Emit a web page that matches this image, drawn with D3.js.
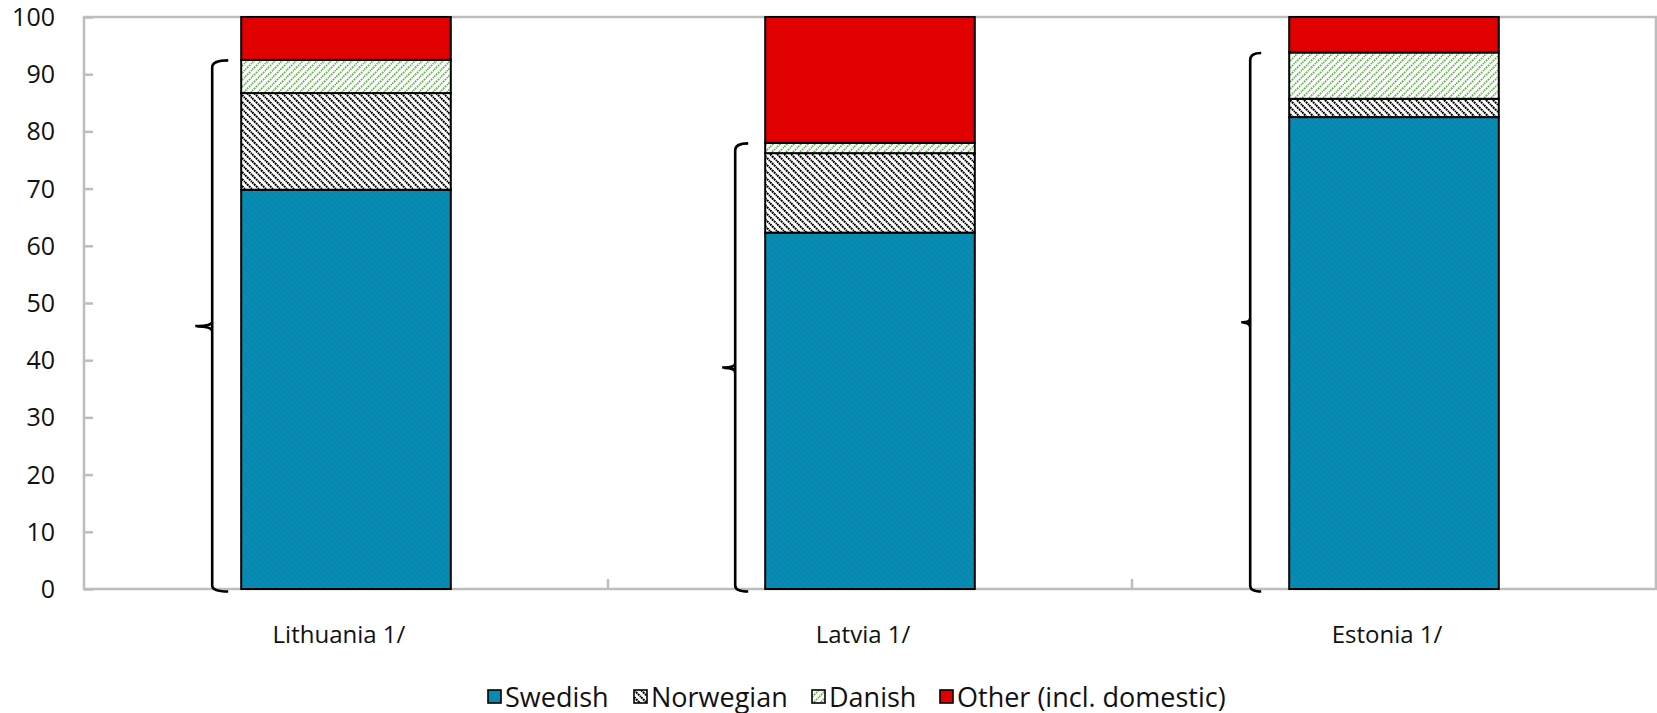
<!DOCTYPE html>
<html>
<head>
<meta charset="utf-8">
<script src="https://cdn.jsdelivr.net/npm/d3@7"></script>
<style>
  html, body { margin: 0; padding: 0; background: #fff; }
  svg { display: block; font-family: "Open Sans", "Noto Sans", sans-serif; }
</style>
</head>
<body>
<svg id="chart" width="1657" height="713"></svg>
<script>
// Market shares of bank groups by country (per cent)
const categories = ["Lithuania 1/", "Latvia 1/", "Estonia 1/"];
const seriesNames = ["Swedish", "Norwegian", "Danish", "Other (incl. domestic)"];
const swedish   = [69.8, 62.3, 82.5];
const norwegian = [16.9, 13.9, 3.2];
const danish    = [5.8, 1.8, 8.1];
const other     = [7.5, 22.0, 6.2];
const yTicks = [0, 10, 20, 30, 40, 50, 60, 70, 80, 90, 100];

const rows = categories.map((c, i) => ({
  category: c,
  Swedish: swedish[i],
  Norwegian: norwegian[i],
  Danish: danish[i],
  "Other (incl. domestic)": other[i]
}));

// curly brackets grouping the Nordic-owned share, drawn left of each bar
const braceStyle = [
  { gap: 29, hook: 16, nub: 17 },
  { gap: 30, hook: 13, nub: 13 },
  { gap: 39, hook: 11, nub: 9 }
];

const svg = d3.select("#chart");
const plotLeft = 84, plotRight = 1656, plotTop = 17, plotBottom = 589;

const x = d3.scaleBand().domain(categories).range([plotLeft, plotRight]).paddingInner(0.6).paddingOuter(0.3);
const xBand = d3.scaleBand().domain(categories).range([plotLeft, plotRight]);
const y = d3.scaleLinear().domain([0, 100]).range([plotBottom, plotTop]);

// fill patterns
const defs = svg.append("defs");

const pSw = defs.append("pattern").attr("id", "pSwedish")
  .attr("patternUnits", "userSpaceOnUse").attr("width", 6).attr("height", 6);
pSw.append("rect").attr("width", 6).attr("height", 6).attr("fill", "#078cb3");
pSw.append("path").attr("d", "M0,0 L6,6 M-3,3 L3,9 M3,-3 L9,3")
  .attr("stroke", "#0884aa").attr("stroke-width", 1.2);

const pNo = defs.append("pattern").attr("id", "pNorwegian")
  .attr("patternUnits", "userSpaceOnUse").attr("width", 7).attr("height", 7);
pNo.append("rect").attr("width", 7).attr("height", 7).attr("fill", "#fff");
pNo.append("path").attr("d", "M0,0 L7,7 M-3.5,3.5 L3.5,10.5 M3.5,-3.5 L10.5,3.5")
  .attr("stroke", "#000").attr("stroke-width", 2.1).attr("stroke-dasharray", "2 0.8");

const pDa = defs.append("pattern").attr("id", "pDanish")
  .attr("patternUnits", "userSpaceOnUse").attr("width", 7).attr("height", 7);
pDa.append("rect").attr("width", 7).attr("height", 7).attr("fill", "#fff");
pDa.append("path").attr("d", "M0,7 L7,0 M-3.5,3.5 L3.5,-3.5 M3.5,10.5 L10.5,3.5")
  .attr("stroke", "#66b552").attr("stroke-width", 1.8).attr("stroke-dasharray", "1.8 1");

const fills = {
  "Swedish": "url(#pSwedish)",
  "Norwegian": "url(#pNorwegian)",
  "Danish": "url(#pDanish)",
  "Other (incl. domestic)": "#e00000"
};

// axes and frame
const axisColor = "#bdbdbd";
const yAxis = svg.append("g").attr("transform", `translate(${plotLeft},0)`)
  .call(d3.axisRight(y).tickValues(yTicks).tickSize(9).tickFormat(""));
yAxis.selectAll("line").attr("stroke", axisColor).attr("stroke-width", 2.5);
yAxis.select(".domain").remove();

svg.append("g").selectAll("text").data(yTicks).join("text")
  .attr("x", 55).attr("y", d => y(d)).attr("dy", "0.36em")
  .attr("text-anchor", "end").attr("font-size", 25).attr("fill", "#111")
  .text(d => d);

// category dividers on the x axis
svg.append("g").selectAll("line").data(categories.slice(1)).join("line")
  .attr("x1", d => xBand(d)).attr("x2", d => xBand(d))
  .attr("y1", plotBottom).attr("y2", plotBottom - 10)
  .attr("stroke", axisColor).attr("stroke-width", 2.5);

svg.append("path")
  .attr("d", `M${plotLeft},${plotTop} L${plotRight},${plotTop} L${plotRight},${plotBottom} L${plotLeft},${plotBottom} Z`)
  .attr("fill", "none").attr("stroke", axisColor).attr("stroke-width", 2.5);

// stacked bars
const stack = d3.stack().keys(seriesNames);
const layers = stack(rows);

svg.append("g").selectAll("g").data(layers).join("g")
  .attr("fill", d => fills[d.key])
  .selectAll("rect").data(d => d).join("rect")
  .attr("x", d => x(d.data.category))
  .attr("width", x.bandwidth())
  .attr("y", d => y(d[1]))
  .attr("height", d => y(d[0]) - y(d[1]))
  .attr("stroke", "#000").attr("stroke-width", 2);

// brackets spanning the Nordic share
const nordic = rows.map(r => r.Swedish + r.Norwegian + r.Danish);
svg.append("g").selectAll("path").data(categories).join("path")
  .attr("d", (c, i) => {
    const s = braceStyle[i];
    const bx = x(c) - s.gap;
    const y0 = y(nordic[i]) + 1.5, y1 = y(0) + 2.5;
    const ym = (y0 + y1) / 2;
    return `M${bx + s.hook},${y0 - 1} Q${bx},${y0 - 1} ${bx},${y0 + 6}` +
           ` L${bx},${y1 - 6} Q${bx},${y1} ${bx + s.hook},${y1}` +
           ` M${bx},${ym - 5} Q${bx},${ym} ${bx - s.nub},${ym - 0.5}` +
           ` M${bx},${ym + 5} Q${bx},${ym} ${bx - s.nub + 2},${ym}`;
  })
  .attr("fill", "none").attr("stroke", "#000").attr("stroke-width", 2.6);

// category labels
svg.append("g").selectAll("text").data(categories).join("text")
  .attr("x", d => x(d) + x.bandwidth() / 2 - 7).attr("y", 643)
  .attr("text-anchor", "middle").attr("font-size", 24).attr("fill", "#111")
  .text(d => d);

// legend
const legendX = [488, 634, 812, 940];
const legend = svg.append("g").selectAll("g").data(seriesNames).join("g")
  .attr("transform", (d, i) => `translate(${legendX[i]},690)`);
legend.append("rect").attr("width", 13).attr("height", 13)
  .attr("fill", d => fills[d]).attr("stroke", "#000").attr("stroke-width", 1.6);
legend.append("text").attr("x", 17).attr("y", 16.5)
  .attr("font-size", 27).attr("fill", "#111")
  .text(d => d);
</script>
</body>
</html>
